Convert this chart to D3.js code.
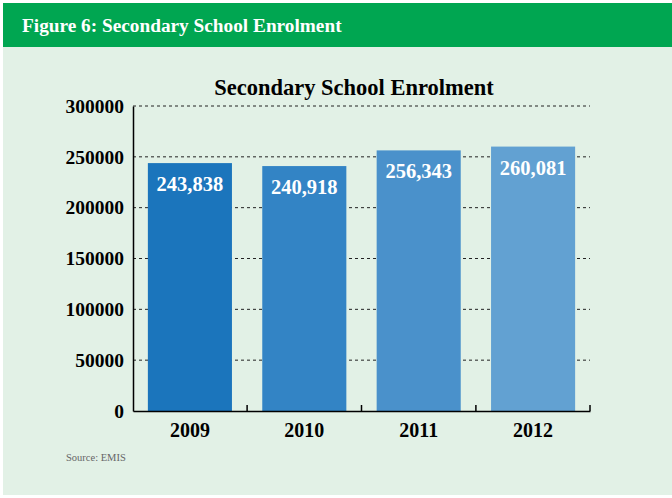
<!DOCTYPE html>
<html>
<head>
<meta charset="utf-8">
<script src="https://cdn.jsdelivr.net/npm/d3@7"></script>
<style>
  body { margin: 0; background: #fff; }
  text { font-family: "Liberation Serif", "DejaVu Serif", serif; }
</style>
</head>
<body>
<svg id="chart" width="672" height="498"></svg>
<script>
const years = ['2009', '2010', '2011', '2012']
const enrolment = [243838, 240918, 256343, 260081]
const barColors = ['#1b75bc', '#3384c5', '#4a91cb', '#62a1d2']
const yTicks = [0, 50000, 100000, 150000, 200000, 250000, 300000]

const svg = d3.select('#chart')

// page frame
svg.append('rect').attr('x', 3).attr('y', 3).attr('width', 669).attr('height', 492).attr('fill', '#e2f1e6')
svg.append('rect').attr('x', 3).attr('y', 3).attr('width', 669).attr('height', 44).attr('fill', '#00a651')
svg.append('text')
  .attr('x', 22).attr('y', 32)
  .attr('fill', '#fff').attr('font-size', 19.3).attr('font-weight', 'bold')
  .text('Figure 6: Secondary School Enrolment')

const margin = { left: 133, right: 590, top: 106, bottom: 411 }

const x = d3.scaleBand()
  .domain(years)
  .range([margin.left, margin.right])
  .paddingInner(0.265)
  .paddingOuter(0.13)

const y = d3.scaleLinear()
  .domain([0, 300000])
  .range([margin.bottom, margin.top])

svg.append('text')
  .attr('x', 354).attr('y', 95)
  .attr('text-anchor', 'middle')
  .attr('font-size', 22.5).attr('font-weight', 'bold')
  .text('Secondary School Enrolment')

// dashed grid
svg.append('g')
  .selectAll('line')
  .data(yTicks.filter(d => d > 0))
  .join('line')
  .attr('x1', margin.left).attr('x2', margin.right)
  .attr('y1', d => y(d)).attr('y2', d => y(d))
  .attr('stroke', '#222').attr('stroke-width', 1)
  .attr('stroke-dasharray', '3,3')

// bars
svg.append('g')
  .selectAll('rect')
  .data(years)
  .join('rect')
  .attr('x', d => x(d))
  .attr('y', (d, i) => y(enrolment[i]))
  .attr('width', x.bandwidth())
  .attr('height', (d, i) => y(0) - y(enrolment[i]))
  .attr('fill', (d, i) => barColors[i])

// value labels
svg.append('g')
  .selectAll('text')
  .data(years)
  .join('text')
  .attr('x', d => x(d) + x.bandwidth() / 2)
  .attr('y', (d, i) => y(enrolment[i]) + 28)
  .attr('text-anchor', 'middle')
  .attr('fill', '#fff').attr('font-size', 20.5).attr('font-weight', 'bold')
  .text((d, i) => d3.format(',')(enrolment[i]))

// y axis
const yAxis = svg.append('g')
  .attr('transform', `translate(${margin.left},0)`)
  .call(d3.axisLeft(y).tickValues(yTicks).tickFormat(d3.format('d')).tickSize(0).tickPadding(9))
yAxis.select('.domain').attr('stroke', '#000').attr('stroke-width', 1.5)
yAxis.selectAll('text')
  .attr('font-family', '"Liberation Serif", serif')
  .attr('font-size', 19.5).attr('font-weight', 'bold').attr('fill', '#000')

// x axis
const xAxis = svg.append('g')
  .attr('transform', `translate(0,${margin.bottom})`)
  .call(d3.axisBottom(x).tickSize(0).tickPadding(12).tickSizeOuter(0))
xAxis.select('.domain').attr('stroke', '#000').attr('stroke-width', 1.5)
xAxis.selectAll('text')
  .attr('font-family', '"Liberation Serif", serif')
  .attr('font-size', 20).attr('font-weight', 'bold').attr('fill', '#000')

// tick marks between categories
const step = x.step()
xAxis.append('g')
  .selectAll('line')
  .data(years)
  .join('line')
  .attr('x1', d => x(d) + x.bandwidth() + step * x.paddingInner() / 2 + (d === years[years.length - 1] ? step * (x.paddingOuter() - x.paddingInner() / 2) : 0))
  .attr('x2', d => x(d) + x.bandwidth() + step * x.paddingInner() / 2 + (d === years[years.length - 1] ? step * (x.paddingOuter() - x.paddingInner() / 2) : 0))
  .attr('y1', 0).attr('y2', -6)
  .attr('stroke', '#000').attr('stroke-width', 1.5)

svg.append('text')
  .attr('x', 66).attr('y', 461)
  .attr('font-size', 10.5).attr('fill', '#666')
  .text('Source: EMIS')
</script>
</body>
</html>
